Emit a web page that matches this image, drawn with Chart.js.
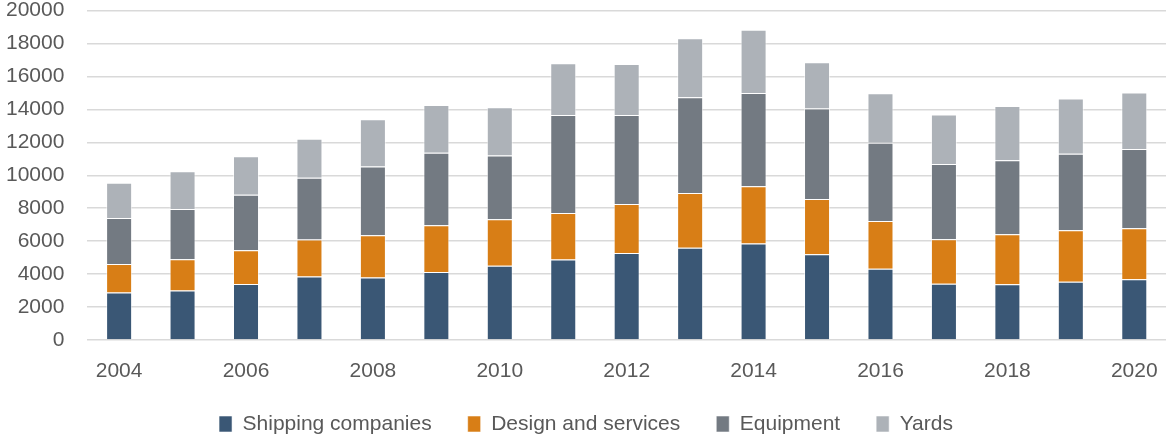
<!DOCTYPE html>
<html>
<head>
<meta charset="utf-8">
<script src="https://cdn.jsdelivr.net/npm/chart.js@4.4.7/dist/chart.umd.min.js"></script>
<style>
  html, body { margin: 0; padding: 0; background: #fff; }
  #wrap { width: 1166px; height: 439px; position: relative; }
</style>
</head>
<body>
<div id="wrap"><canvas id="chart"></canvas></div>
<script>
const years = ["2004", "2005", "2006", "2007", "2008", "2009", "2010", "2011", "2012",
  "2013", "2014", "2015", "2016", "2017", "2018", "2019", "2020"];
const shipping = [2880, 3000, 3400, 3850, 3790, 4130, 4500, 4880, 5280, 5600, 5850, 5200, 4330, 3420, 3380, 3540, 3680];
const design = [1740, 1900, 2050, 2250, 2570, 2830, 2830, 2830, 2980, 3320, 3480, 3360, 2900, 2690, 3040, 3120, 3100];
const equipment = [2790, 3050, 3360, 3750, 4170, 4410, 3870, 5950, 5400, 5810, 5670, 5490, 4740, 4580, 4490, 4640, 4820];
const yards = [2140, 2290, 2350, 2370, 2875, 2900, 2920, 3140, 3100, 3580, 3830, 2810, 3010, 3000, 3300, 3360, 3420];

const font = { family: "'Liberation Sans', Arial, sans-serif", size: 21, lineHeight: 1 };
const textColor = "#595959";

const makeSet = (label, data, color) => ({
  label,
  data,
  backgroundColor: color,
  borderColor: "rgba(255,255,255,0.55)",
  borderWidth: 1,
  barPercentage: 0.41,
  categoryPercentage: 1,
});

// legend sits close to the bottom edge, so pin its height
const legendHeight = {
  id: "legendHeight",
  beforeInit(chart) {
    const fit = chart.legend.fit;
    chart.legend.fit = function () {
      fit.call(this);
      this.height = 61.5;
    };
  },
};

const config = {
  type: "bar",
  data: {
    labels: years,
    datasets: [
      makeSet("Shipping companies", shipping, "#3a5775"),
      makeSet("Design and services", design, "#d87e16"),
      makeSet("Equipment", equipment, "#737a82"),
      makeSet("Yards", yards, "#adb2b8"),
    ],
  },
  options: {
    responsive: true,
    maintainAspectRatio: false,
    animation: false,
    layout: { padding: { left: 6, right: 0, top: 0, bottom: 0 } },
    plugins: {
      tooltip: { enabled: false },
      legend: {
        position: "bottom",
        labels: {
          font,
          color: textColor,
          boxWidth: 13,
          boxHeight: 16,
          padding: 36,
        },
      },
    },
    scales: {
      x: {
        stacked: true,
        grid: { display: false, drawTicks: true, tickLength: 20.5 },
        border: { display: false },
        ticks: {
          font,
          color: textColor,
          padding: 0,
          autoSkip: false,
          maxRotation: 0,
          callback: (v, i) => (i % 2 === 0 ? years[i] : ""),
        },
        afterFit: (s) => { s.height = 37.5; },
      },
      y: {
        stacked: true,
        min: 0,
        max: 20000,
        grid: { color: "#d9d9d9", lineWidth: 1.5, drawTicks: true, tickLength: 23, tickColor: "rgba(0,0,0,0)" },
        border: { display: false },
        ticks: { font, color: textColor, stepSize: 2000, padding: 0, callback: (v) => String(v) },
      },
    },
  },
  plugins: [legendHeight],
};

new Chart(document.getElementById("chart"), config);
</script>
</body>
</html>
